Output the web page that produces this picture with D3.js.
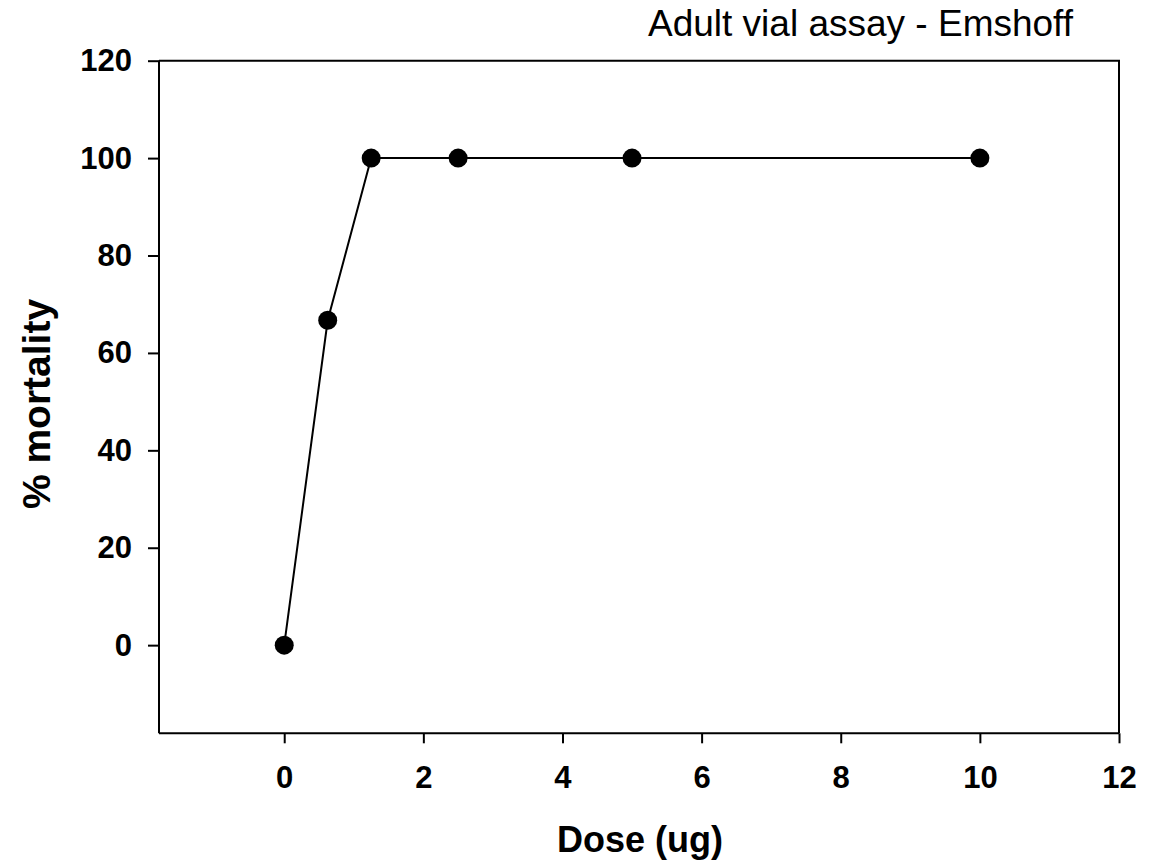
<!DOCTYPE html>
<html>
<head>
<meta charset="utf-8">
<script src="https://cdn.jsdelivr.net/npm/d3@7"></script>
<style>
  html, body { margin: 0; padding: 0; background: #fff; }
  svg { display: block; font-family: "Liberation Sans", Arial, sans-serif; }
</style>
</head>
<body>
<svg id="chart" width="1153" height="863"></svg>
<script>
const doses = [0, 0.625, 1.25, 2.5, 5, 10];
const mortality = [0, 66.7, 100, 100, 100, 100];
const xTicks = [0, 2, 4, 6, 8, 10, 12];
const yTicks = [0, 20, 40, 60, 80, 100, 120];
const titleText = "Adult vial assay - Emshoff";
const xLabel = "Dose (ug)";
const yLabel = "% mortality";

const svg = d3.select("#chart");
const L = 159, R = 1119, T = 60.7, B = 733.3;

const x = d3.scaleLinear().domain([-1.8, 12]).range([L, R]);
const y = d3.scaleLinear().domain([-18.1, 120]).range([B, T]);

// frame (top and right)
svg.append("path")
  .attr("d", `M${L},${T}H${R}V${B}`)
  .attr("fill", "none").attr("stroke", "#000").attr("stroke-width", 2);

const yAxis = svg.append("g")
  .attr("transform", `translate(${L},0)`)
  .call(d3.axisLeft(y).tickValues(yTicks).tickSize(11).tickSizeOuter(0).tickPadding(16));
const xAxis = svg.append("g")
  .attr("transform", `translate(0,${B})`)
  .call(d3.axisBottom(x).tickValues(xTicks).tickSize(10).tickSizeOuter(0).tickPadding(23));

[yAxis, xAxis].forEach(g => {
  g.select(".domain").attr("stroke", "#000").attr("stroke-width", 2);
  g.selectAll(".tick line").attr("stroke", "#000").attr("stroke-width", 2);
  g.selectAll(".tick text")
    .attr("fill", "#000")
    .style("font-family", '"Liberation Sans", Arial, sans-serif')
    .style("font-size", "31px")
    .style("font-weight", "bold");
});
yAxis.select(".domain").attr("d", `M0,${B}V${T}`);
xAxis.select(".domain").attr("d", `M${L},0H${R}`);

const pts = doses.map((d, i) => [d, mortality[i]]);
const line = d3.line().x(d => x(d[0])).y(d => y(d[1]));
svg.append("path").datum(pts)
  .attr("d", line).attr("fill", "none").attr("stroke", "#000").attr("stroke-width", 2);
svg.selectAll("circle.pt").data(pts).enter().append("circle")
  .attr("class", "pt")
  .attr("cx", d => x(d[0])).attr("cy", d => y(d[1])).attr("r", 9.5).attr("fill", "#000");

svg.append("text")
  .attr("x", 1073).attr("y", 36)
  .attr("text-anchor", "end")
  .style("font-size", "37px")
  .text(titleText);

svg.append("text")
  .attr("x", 640).attr("y", 852)
  .attr("text-anchor", "middle")
  .style("font-size", "36px").style("font-weight", "bold")
  .text(xLabel);

svg.append("text")
  .attr("transform", "translate(50,404) rotate(-90)")
  .attr("text-anchor", "middle")
  .style("font-size", "39px").style("font-weight", "bold")
  .text(yLabel);
</script>
</body>
</html>
